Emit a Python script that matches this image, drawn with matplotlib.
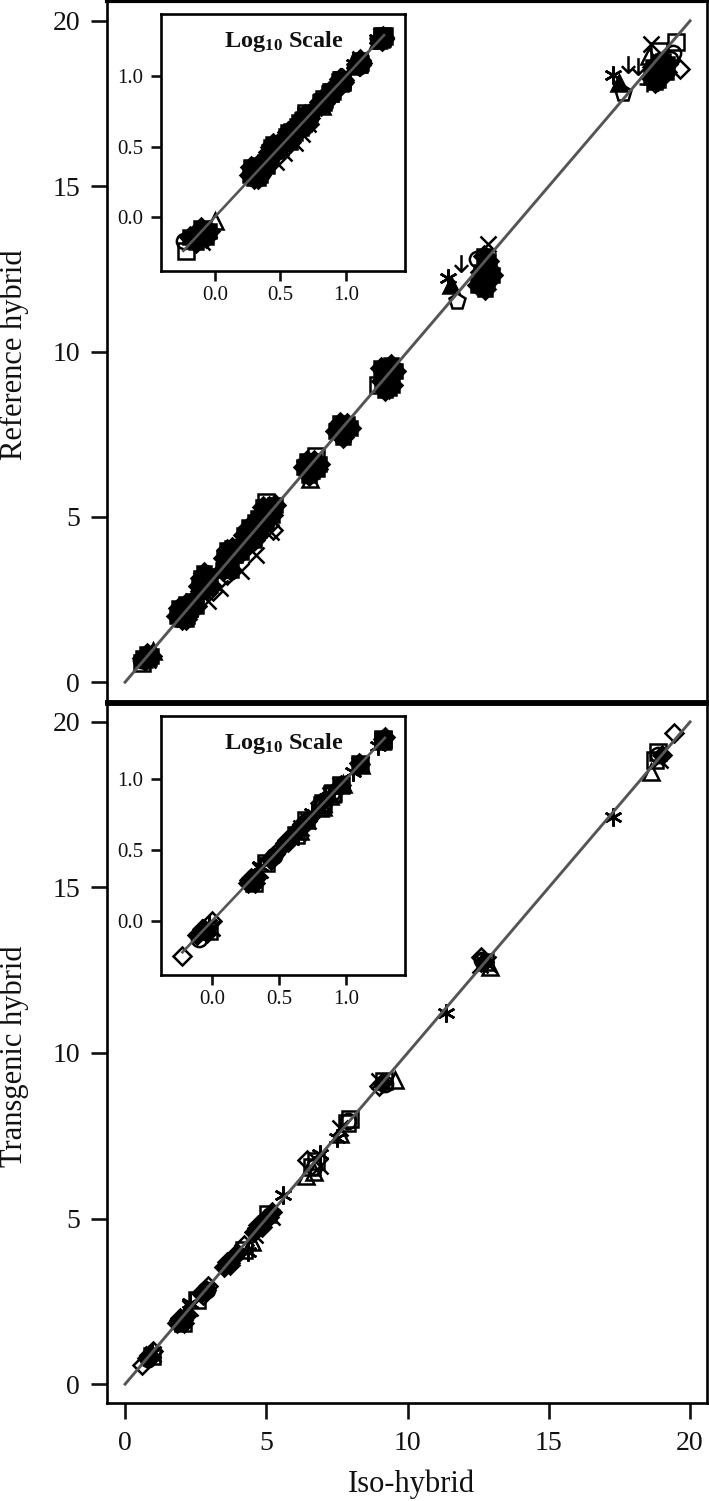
import numpy as np
import matplotlib
matplotlib.use("Agg")
import matplotlib.pyplot as plt
from matplotlib.path import Path

plt.rcParams['font.family'] = ['Liberation Serif', 'DejaVu Serif']
plt.rcParams['mathtext.fontset'] = 'custom'
plt.rcParams['mathtext.bf'] = 'Liberation Serif:bold'
plt.rcParams['mathtext.rm'] = 'Liberation Serif'

W, H = 709, 1501

# --- top panel: dense part of the clouds
top_dense_x = [0.65, 0.72, 0.78, 0.85, 0.9, 0.8,
               1.85, 1.9, 2.0, 2.05, 2.15, 2.2, 2.3, 2.4, 2.5, 2.15,
               2.6, 2.7, 2.8, 2.85, 2.95, 2.7, 3.0,
               3.45, 3.5, 3.6, 3.7, 3.8, 3.9, 3.75, 4.0, 4.1,
               4.2, 4.3, 4.4, 4.5, 4.6, 4.55, 4.7, 4.75, 4.9, 5.0, 5.1, 5.2, 5.3, 4.9,
               6.35, 6.45, 6.6, 6.7, 6.8, 6.5, 6.85,
               7.45, 7.6, 7.7, 7.85, 7.95, 7.7,
               9.05, 9.1, 9.2, 9.3, 9.4, 9.45, 9.55, 9.2, 9.35,
               12.5, 12.6, 12.7, 12.8, 12.9, 13.0, 12.75, 12.85,
               18.6, 18.7, 18.85, 18.95, 19.05, 19.15, 18.9, 19.2, 18.75]
top_dense_y = [0.72, 0.66, 0.84, 0.72, 0.8, 0.76,
               2.0, 2.25, 1.9, 2.15, 2.35, 2.0, 2.2, 2.45, 2.3, 1.9,
               2.9, 3.15, 3.3, 3.0, 3.2, 2.75, 2.95,
               3.4, 3.75, 4.0, 3.7, 4.05, 3.85, 3.4, 4.1, 3.95,
               4.45, 4.25, 4.7, 4.5, 4.85, 4.3, 4.95, 4.6, 5.15, 4.85, 5.3, 5.05, 5.35, 5.3,
               6.5, 6.7, 6.4, 6.7, 6.45, 6.25, 6.6,
               7.6, 7.85, 7.5, 7.8, 7.7, 7.4,
               9.5, 9.1, 8.85, 9.3, 9.6, 9.0, 9.4, 9.45, 8.9,
               12.0, 12.4, 12.9, 12.1, 12.5, 12.3, 11.9, 12.75,
               18.3, 18.6, 18.2, 18.5, 18.8, 18.45, 18.75, 18.7, 18.15]

# --- top panel: single open markers that stick out of the clouds
top_star_x = [17.26, 11.43]
top_star_y = [18.37, 12.23]
top_tri_x = [6.55, 18.55, 1.0]
top_tri_y = [6.15, 18.95, 0.93]
top_solid_tri_x = [17.5, 11.54]
top_solid_tri_y = [18.13, 12.0]
top_pent_x = [17.63, 11.75]
top_pent_y = [17.82, 11.54]
top_down_x = [17.8, 18.16, 11.9]
top_down_y = [18.7, 18.64, 12.69]
top_cross_x = [18.6, 12.85, 2.95, 3.35, 4.1, 4.65, 5.15, 0.8]
top_cross_y = [19.3, 13.26, 2.45, 2.85, 3.35, 3.85, 4.55, 0.66]
top_square_x = [19.5, 18.9, 6.75, 5.0, 8.95, 9.35, 0.6]
top_square_y = [19.36, 19.1, 6.85, 5.45, 9.0, 9.05, 0.57]
top_diamond_x = [19.65, 3.1, 3.6, 5.25]
top_diamond_y = [18.55, 2.75, 3.25, 4.6]
top_plus_x = [18.48]
top_plus_y = [18.1]
top_circle_x = [19.4, 19.3, 12.46, 0.58]
top_circle_y = [19.03, 18.85, 12.8, 0.68]

# --- bottom panel
bot_dense_x = [0.78, 0.85, 0.92,
               1.85, 1.95, 2.05, 2.15, 1.9, 2.1,
               2.7, 2.85,
               3.5, 3.6, 3.72, 3.85, 3.95, 3.7,
               4.55, 4.7, 4.85, 4.95, 5.1, 5.2,
               9.1, 12.7, 19.0]
bot_dense_y = [0.8, 0.88, 0.82,
               1.85, 2.0, 1.95, 2.05, 1.95, 1.85,
               2.75, 2.85,
               3.55, 3.7, 3.65, 3.85, 3.95, 3.6,
               4.6, 4.8, 4.75, 5.0, 5.05, 5.2,
               9.1, 12.75, 19.0]
bot_star_x = [5.6, 6.9, 7.5, 17.27, 11.36, 0.95, 2.3, 4.35]
bot_star_y = [5.72, 6.95, 7.43, 17.13, 11.2, 0.95, 2.45, 4.0]
bot_diamond_x = [0.6, 6.44, 19.43, 4.2, 2.75, 2.95, 9.0, 12.6, 1.0]
bot_diamond_y = [0.57, 6.77, 19.67, 4.2, 2.7, 2.95, 9.0, 12.9, 1.0]
bot_square_x = [18.87, 18.76, 7.86, 7.95, 6.75, 4.2, 2.55, 2.05, 9.15, 12.75, 6.6, 5.05, 0.95]
bot_square_y = [19.09, 18.85, 7.88, 8.0, 6.75, 4.05, 2.55, 1.85, 9.15, 12.75, 6.55, 5.15, 0.85]
bot_tri_x = [18.62, 6.4, 9.55, 12.92, 7.6, 4.5, 6.7]
bot_tri_y = [18.49, 6.3, 9.18, 12.6, 7.55, 4.3, 6.4]
bot_circle_x = [18.85, 12.65, 6.7, 9.2, 7.9, 0.8, 2.9]
bot_circle_y = [19.0, 12.8, 6.55, 9.05, 7.95, 0.75, 2.85]
bot_cross_x = [18.95, 12.55, 9.0, 6.9, 7.6, 2.3, 4.6, 12.85, 1.0, 5.2]
bot_cross_y = [18.85, 12.65, 9.15, 6.6, 7.75, 2.3, 4.5, 12.7, 0.9, 5.05]

line_main = [0, 20]
line_log_top = [-0.24, 1.29]
line_log_bot = [-0.22, 1.29]

main_ticks = [0, 5, 10, 15, 20]
log_ticks = [0.0, 0.5, 1.0]
log_labels = ['0.0', '0.5', '1.0']

MS = 11
MEW = 1.8
AST = (6, 2, 0)
ARROW = Path([(0, 1), (0, -1), (-0.8, -0.2), (0, -1), (0.8, -0.2)],
             [Path.MOVETO, Path.LINETO, Path.MOVETO, Path.LINETO, Path.LINETO])


def add_axes_px(fig, left, top, right, bottom):
    return fig.add_axes([left / W, 1 - bottom / H, (right - left) / W, (bottom - top) / H])


def draw_open(ax, x, y, marker, log=False, size=MS, filled=False):
    x = np.array(x, dtype=float)
    y = np.array(y, dtype=float)
    if log:
        x = np.log10(x)
        y = np.log10(y)
    ax.plot(x, y, ls='none', marker=marker, ms=size, mew=MEW, mec='black',
            mfc='black' if filled else 'none', zorder=2)


def draw_top(ax, log=False):
    draw_open(ax, top_dense_x, top_dense_y, 'D', log, 10.5, True)
    draw_open(ax, top_dense_x, top_dense_y, 's', log, 9.5, True)
    draw_open(ax, top_star_x, top_star_y, AST, log, 13)
    draw_open(ax, top_tri_x, top_tri_y, '^', log)
    draw_open(ax, top_solid_tri_x, top_solid_tri_y, '^', log, MS, True)
    draw_open(ax, top_pent_x, top_pent_y, 'p', log, 12)
    draw_open(ax, top_down_x, top_down_y, ARROW, log, 12)
    draw_open(ax, top_cross_x, top_cross_y, 'x', log)
    draw_open(ax, top_square_x, top_square_y, 's', log)
    draw_open(ax, top_diamond_x, top_diamond_y, 'D', log, 9.5)
    draw_open(ax, top_plus_x, top_plus_y, '+', log, 12)
    draw_open(ax, top_circle_x, top_circle_y, 'o', log)


def draw_bot(ax, log=False):
    draw_open(ax, bot_dense_x, bot_dense_y, 'D', log, 9.5, True)
    draw_open(ax, bot_star_x, bot_star_y, AST, log, 13)
    draw_open(ax, bot_diamond_x, bot_diamond_y, 'D', log, 9.5)
    draw_open(ax, bot_square_x, bot_square_y, 's', log)
    draw_open(ax, bot_tri_x, bot_tri_y, '^', log)
    draw_open(ax, bot_circle_x, bot_circle_y, 'o', log)
    draw_open(ax, bot_cross_x, bot_cross_y, 'x', log)


def style_axes(ax, lw, tick_len, size, pad):
    for s in ax.spines.values():
        s.set_linewidth(lw)
    ax.tick_params(width=lw, length=tick_len, labelsize=size, pad=pad, color='#111111', labelcolor='#111111')


fig = plt.figure(figsize=(W / 100, H / 100), dpi=100)

# main panels
ax1 = add_axes_px(fig, 107, 1, 707, 702)
ax2 = add_axes_px(fig, 107, 703, 707, 1403)

draw_top(ax1)
draw_bot(ax2)
for ax in (ax1, ax2):
    ax.plot(line_main, line_main, color='#555555', lw=2.1, zorder=3)
    ax.set_xlim(-0.64, 20.6)
    ax.set_xticks(main_ticks)
    ax.set_yticks(main_ticks)
    style_axes(ax, 1.9, 11.5, 20, 8)
ax1.set_ylim(-0.6, 20.6)
ax2.set_ylim(-0.57, 20.57)
ax1.tick_params(axis='x', bottom=False, labelbottom=False)
ax1.spines['bottom'].set_linewidth(3.5)
ax2.spines['top'].set_linewidth(3.5)
ax1.spines['top'].set_linewidth(3)
ax2.tick_params(axis='x', pad=9)

fig.text(14 / W, 1 - 355 / H, 'Reference hybrid', rotation=90, ha='center', va='center', fontsize=22, color='#111111')
fig.text(14 / W, 1 - 1056 / H, 'Transgenic hybrid', rotation=90, ha='center', va='center', fontsize=22, color='#111111')
fig.text(411 / W, 1 - 1484 / H, 'Iso-hybrid', ha='center', va='center', fontsize=22, color='#111111')

# log insets
in1 = add_axes_px(fig, 161, 14, 405, 271)
in2 = add_axes_px(fig, 161, 716, 405, 975)

draw_top(in1, log=True)
draw_bot(in2, log=True)
in1.plot(line_log_top, line_log_top, color='#555555', lw=1.9, zorder=3)
in2.plot(line_log_bot, line_log_bot, color='#555555', lw=1.9, zorder=3)
in1.set_xlim(-0.41, 1.45)
in1.set_ylim(-0.383, 1.44)
in2.set_xlim(-0.38, 1.44)
in2.set_ylim(-0.38, 1.444)
for ax in (in1, in2):
    ax.set_xticks(log_ticks)
    ax.set_xticklabels(log_labels)
    ax.set_yticks(log_ticks)
    ax.set_yticklabels(log_labels)
    style_axes(ax, 1.9, 7, 15, 5.5)
    ax.tick_params(axis='x', pad=4)
    ax.text(0.505, 0.893, r'$\mathbf{Log_{10}}$ $\mathbf{Scale}$', transform=ax.transAxes,
            ha='center', va='center', fontsize=17.5, color='#111111')

plt.savefig('out.png', dpi=100)
plt.close()
